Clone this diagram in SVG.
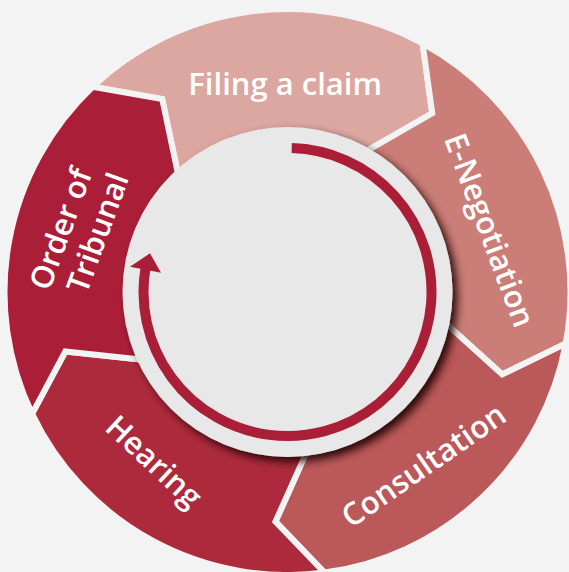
<svg xmlns="http://www.w3.org/2000/svg" width="569" height="572" viewBox="0 0 569 572">
<defs>
<style>
.seg{stroke:#f3f3f3;stroke-width:6;stroke-linejoin:miter}
.lbl{font-family:"Open Sans","Noto Sans","Liberation Sans",sans-serif;font-weight:600;font-size:31px;fill:#ffffff;text-anchor:middle}
</style>
<filter id="sh" x="-20%" y="-20%" width="140%" height="140%">
<feDropShadow dx="5" dy="5" stdDeviation="4.5" flood-color="#1a0505" flood-opacity="0.9"/>
</filter>
</defs>
<rect width="569" height="572" fill="#f3f3f3"/>
<g id="filing">
<path class="seg" fill="#dca6a1" d="M92.70,86.72 A283,283 0 0 1 422.54,43.29 L432.24,113.26 L362.89,153.15 A158,158 0 0 0 178.74,177.39 L162.23,99.11 Z"/>
<text class="lbl" x="285.2" y="95">Filing a claim</text>
</g>
<g id="enegotiation">
<path class="seg" fill="#cb7d77" d="M422.54,43.29 A283,283 0 0 1 565.76,343.57 L502.22,374.43 L442.85,320.79 A158,158 0 0 0 362.89,153.15 L432.24,113.26 Z"/>
</g>
<g id="consultation">
<path class="seg" fill="#bb5859" d="M565.76,343.57 A283,283 0 0 1 324.44,572.58 L275.46,521.68 L308.12,448.65 A158,158 0 0 0 442.85,320.79 L502.22,374.43 Z"/>
</g>
<g id="hearing">
<path class="seg" fill="#ad2a3c" d="M324.44,572.58 A283,283 0 0 1 32.07,413.83 L65.34,351.53 L144.89,360.02 A158,158 0 0 0 308.12,448.65 L275.46,521.68 Z"/>
</g>
<g id="order">
<path class="seg" fill="#ab1e38" d="M32.07,413.83 A283,283 0 0 1 92.70,86.72 L162.23,99.11 L178.74,177.39 A158,158 0 0 0 144.89,360.02 L65.34,351.53 Z"/>
</g>
<g id="center">
<circle cx="287.5" cy="292" r="165" fill="#e8e8e8" filter="url(#sh)"/>
</g>
<g id="connectors">
<path d="M291.7,148.06 A144,144 0 1 1 145.7,266.99" fill="none" stroke="#ab1e38" stroke-width="10"/>
<polygon points="150,253.3 130,266.7 161,272.7" fill="#ab1e38"/>
</g>
<g id="labels">
<text class="lbl" transform="translate(479.5,234) rotate(69.5)" x="0" y="0">E-Negotiation</text>
<text class="lbl" transform="translate(429.7,474.3) rotate(-34.7)" x="0" y="0">Consultation</text>
<text class="lbl" transform="translate(146.6,469.4) rotate(43)" x="0" y="0">Hearing</text>
<g transform="translate(71,232.6) rotate(-70)">
<text class="lbl" x="0" y="0">Order of</text>
<text class="lbl" x="9" y="36">Tribunal</text>
</g>
</g>
</svg>
